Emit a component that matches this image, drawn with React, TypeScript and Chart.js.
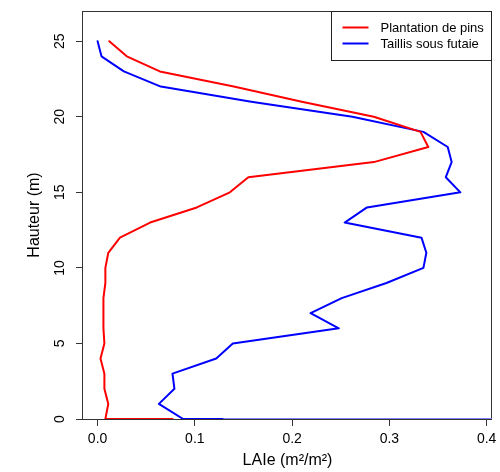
import React, { useEffect, useRef } from "react";
import { Chart, registerables } from "chart.js";

Chart.register(...registerables);

// ---- Data ----
const heights = [25, 24, 23, 22, 21, 20, 19, 18, 17, 16, 15, 14, 13, 12, 11, 10, 9, 8, 7, 6, 5, 4, 3, 2, 1, 0];
const pinsLAI = [
  0.012, 0.030, 0.064, 0.140, 0.210, 0.284, 0.332, 0.340, 0.284, 0.155, 0.136, 0.102, 0.054,
  0.023, 0.011, 0.008, 0.008, 0.006, 0.006, 0.006, 0.007, 0.003, 0.007, 0.007, 0.011, 0.008,
];
const taillisLAI = [
  0.000, 0.004, 0.027, 0.065, 0.158, 0.262, 0.335, 0.360, 0.364, 0.358, 0.373, 0.277, 0.254,
  0.333, 0.338, 0.335, 0.297, 0.251, 0.219, 0.248, 0.139, 0.122, 0.077, 0.079, 0.063, 0.088,
];
// extra points lying on the ground line (height 0)
const pinsGroundLAI = [0.077];
const taillisGroundLAI = [0.130, 0.42];

const xTickValues = [0, 0.1, 0.2, 0.3, 0.4];
const xTickLabels = ["0.0", "0.1", "0.2", "0.3", "0.4"];
const yTickValues = [0, 5, 10, 15, 20, 25];
const yTickLabels = ["0", "5", "10", "15", "20", "25"];
const seriesNames = ["Plantation de pins", "Taillis sous futaie"];
const seriesColors = ["#ff0000", "#0000ff"];
const xTitle = "LAIe (m²/m²)";
const yTitle = "Hauteur (m)";

const FONT = "'Liberation Sans', Arial, Helvetica, sans-serif";

function buildPoints(values: number[], ground: number[]) {
  const pts = heights.map((h, i) => ({ x: values[i], y: h }));
  ground.forEach((x) => pts.push({ x, y: 0 }));
  return pts;
}

const boxPlugin = {
  id: "rbox",
  beforeDatasetsDraw(chart: any) {
    const { ctx, chartArea } = chart;
    ctx.save();
    ctx.strokeStyle = "#333";
    ctx.lineWidth = 1;
    ctx.strokeRect(
      Math.round(chartArea.left) - 0.5,
      Math.round(chartArea.top) + 0.5,
      Math.round(chartArea.right - chartArea.left) + 0,
      Math.round(chartArea.bottom - chartArea.top)
    );
    ctx.restore();
  },
};

const legendPlugin = {
  id: "rlegend",
  afterDraw(chart: any) {
    const { ctx, chartArea } = chart;
    const right = Math.round(chartArea.right) - 0.5;
    const top = Math.round(chartArea.top) + 0.5;
    const w = 160;
    const h = 49;
    const left = right - w;
    ctx.save();
    ctx.fillStyle = "#fff";
    ctx.fillRect(left, top, w, h);
    ctx.strokeStyle = "#222";
    ctx.lineWidth = 1;
    ctx.strokeRect(left, top, w, h);
    ctx.font = `13px ${FONT}`;
    ctx.textBaseline = "middle";
    ctx.textAlign = "left";
    chart.data.datasets.forEach((ds: any, i: number) => {
      const y = top + 16 + i * 16;
      ctx.strokeStyle = ds.borderColor;
      ctx.lineWidth = 2;
      ctx.beginPath();
      ctx.moveTo(left + 11, y);
      ctx.lineTo(left + 37, y);
      ctx.stroke();
      ctx.fillStyle = "#000";
      ctx.fillText(ds.label, left + 49, y + 0.5);
    });
    ctx.restore();
  },
};

export default function App() {
  const ref = useRef<HTMLCanvasElement | null>(null);

  useEffect(() => {
    document.body.style.margin = "0";
    const canvas = ref.current;
    if (!canvas) return;
    const blueBaseIdx = heights.length; // index of the point at 0.130
    const chart = new Chart(canvas, {
      type: "scatter",
      data: {
        datasets: [
          {
            label: seriesNames[0],
            data: buildPoints(pinsLAI, pinsGroundLAI),
            borderColor: seriesColors[0],
            backgroundColor: seriesColors[0],
            showLine: true,
            borderWidth: 2,
            pointRadius: 0,
            borderJoinStyle: "round",
            borderCapStyle: "round",
            tension: 0,
          },
          {
            label: seriesNames[1],
            data: buildPoints(taillisLAI, taillisGroundLAI),
            borderColor: seriesColors[1],
            backgroundColor: seriesColors[1],
            showLine: true,
            borderWidth: 2,
            pointRadius: 0,
            borderJoinStyle: "round",
            borderCapStyle: "round",
            tension: 0,
            segment: {
              borderColor: (c: any) => (c.p0DataIndex >= blueBaseIdx ? "#8080ff" : undefined),
            },
          },
        ],
      },
      options: {
        responsive: false,
        animation: false,
        devicePixelRatio: 1,
        layout: { padding: { left: 0, right: 8, top: 11, bottom: 0 } },
        plugins: { legend: { display: false }, tooltip: { enabled: false } },
        scales: {
          x: {
            type: "linear",
            position: "bottom",
            min: -0.015,
            max: 0.4055,
            afterBuildTicks: (s: any) => {
              s.ticks = xTickValues.map((v) => ({ value: v }));
            },
            afterFit: (s: any) => {
              s.height = 53;
              s.paddingLeft = 0;
              s.paddingRight = 0;
            },
            ticks: {
              autoSkip: false,
              maxRotation: 0,
              minRotation: 0,
              padding: 5,
              color: "#000",
              font: { size: 14, family: FONT },
              callback: (v: any) => {
                const i = xTickValues.indexOf(Number(v));
                return i >= 0 ? xTickLabels[i] : "";
              },
            },
            grid: {
              display: true,
              drawOnChartArea: false,
              drawTicks: true,
              tickLength: 7,
              tickColor: "#333",
              lineWidth: 1,
            },
            border: { display: false },
            title: {
              display: true,
              text: xTitle,
              color: "#000",
              font: { size: 16, family: FONT },
              padding: { top: 0, bottom: 2 },
            },
          },
          y: {
            type: "linear",
            position: "left",
            min: 0,
            max: 27,
            afterBuildTicks: (s: any) => {
              s.ticks = yTickValues.map((v) => ({ value: v }));
            },
            afterFit: (s: any) => {
              s.width = 83;
              s.paddingTop = 0;
              s.paddingBottom = 0;
            },
            ticks: {
              autoSkip: false,
              minRotation: 90,
              maxRotation: 90,
              crossAlign: "center",
              padding: 8,
              color: "#000",
              font: { size: 14, family: FONT },
              callback: (v: any) => {
                const i = yTickValues.indexOf(Number(v));
                return i >= 0 ? yTickLabels[i] : "";
              },
            },
            grid: {
              display: true,
              drawOnChartArea: false,
              drawTicks: true,
              tickLength: 7,
              tickColor: "#333",
              lineWidth: 1,
            },
            border: { display: false },
            title: {
              display: true,
              text: yTitle,
              color: "#000",
              font: { size: 16, family: FONT },
              padding: { top: 25, bottom: 0 },
            },
          },
        },
      } as any,
      plugins: [boxPlugin, legendPlugin],
    });
    return () => chart.destroy();
  }, []);

  return <canvas ref={ref} width={500} height={472} style={{ display: "block" }} />;
}
